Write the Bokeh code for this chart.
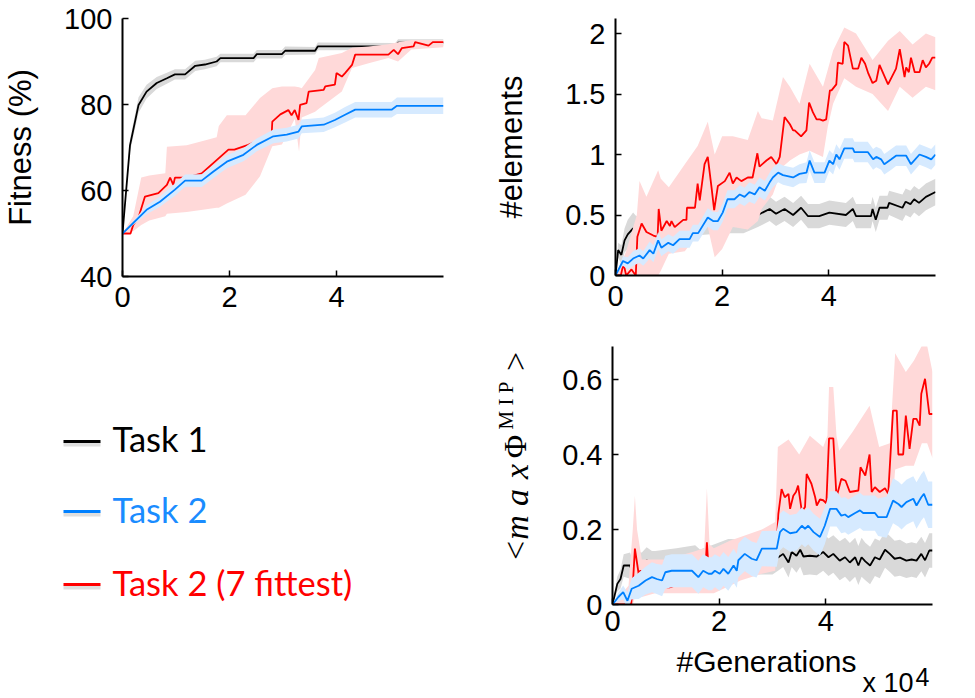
from math import pi
import numpy as np
from bokeh.plotting import figure
from bokeh.models import Range1d, FixedTicker, NumeralTickFormatter
from bokeh.core.properties import value
from bokeh.layouts import row, column
from bokeh.embed import file_html
from bokeh.resources import INLINE

# ---------------- colours ----------------
C_T1, C_T2, C_T2F = "#000000", "#0080ff", "#ff0000"
F_T1, F_T2, F_T2F = "#d9d9d9", "#d6eaff", "#ffd9d9"
series_labels = ["Task 1", "Task 2", "Task 2 (7 fittest)"]
legend_text_colors = ["#000000", "#1a8cff", "#ff0000"]
legend_line_colors = [C_T1, C_T2, C_T2F]

# x values are in units of 10^4 generations
# ---------------- Panel 1 : Fitness (%) ----------------
fit_t1_x = [0, 0.14, 0.30, 0.45, 0.64, 0.83, 0.98, 1.17, 1.36, 1.54, 1.76, 1.83, 2.45, 2.51, 2.98, 3.04, 3.6, 3.65, 5.1, 5.15, 6.0]
fit_t1_y = [50, 70.5, 79.9, 83, 85, 86.1, 87, 87, 89, 89.3, 90, 90.8, 90.8, 91.7, 91.7, 92.5, 92.5, 93.5, 93.5, 94.4, 94.4]
fit_t1_err = [0, 1.5, 1.8, 1.6, 1.4, 1.3, 1.2, 1.2, 1.2, 1.1, 1.1, 1.0, 1.0, 1.0, 1.0, 1.0, 0.9, 0.9, 0.8, 0.8, 0.8]

fit_t2_x = [0, 0.45, 0.70, 0.98, 1.17, 1.48, 1.70, 1.95, 2.26, 2.51, 2.82, 3.07, 3.29, 3.35, 3.76, 3.97, 4.16, 4.35, 5.03, 5.13, 6.0]
fit_t2_y = [50, 55.5, 57.4, 60.2, 62.3, 62.3, 64.4, 66.7, 68.3, 70.6, 72.6, 73, 73.7, 74.9, 75.3, 76.4, 77.6, 78.8, 78.8, 79.7, 79.7]
fit_t2_err = [0, 1.0, 1.2, 1.4, 1.4, 1.5, 1.5, 1.5, 1.5, 1.5, 1.6, 1.6, 1.6, 1.6, 1.7, 1.7, 1.8, 1.8, 1.8, 1.9, 1.9]

fit_t2f_x = [0, 0.15, 0.2, 0.3, 0.42, 0.67, 0.83, 0.89, 0.95, 0.98, 1.2, 1.48, 1.98, 2.09, 2.35, 2.6, 2.79, 2.8, 2.95, 3.1,
             3.16, 3.22, 3.29, 3.32, 3.44, 3.48, 3.76, 3.79, 3.97, 4.0, 4.1, 4.16, 4.29, 4.35, 4.97, 5.07, 5.15, 5.22, 5.44, 5.47,
             5.72, 5.8, 6.0]
fit_t2f_y = [50, 50, 52, 53.8, 58.6, 59.4, 61.3, 63, 61.3, 63, 63, 64, 69.5, 69.5, 70.6, 72, 73.5, 76, 77.7, 78.7,
             77.5, 78.7, 76.4, 79.9, 80.3, 83, 83.4, 84.2, 84.6, 87.3, 86.5, 87.3, 89.2, 91.6, 91.6, 92.7, 91.7, 93.1, 93.5, 94.5,
             93.7, 94.5, 94.5]
fit_t2f_band_x = [0, 0.2, 0.35, 0.5, 0.8, 0.83, 1.2, 1.5, 1.76, 1.8, 1.95, 2.3, 2.57, 2.8, 2.98, 3.22, 3.3, 3.35, 3.6, 3.67,
                  4.1, 4.29, 4.6, 4.97, 5.15, 5.4, 6.0]
fit_t2f_lo = [50, 50.5, 52, 53, 54, 54.6, 55, 55.5, 56, 56, 57, 59, 63.3, 70.3, 70.7, 76.7, 69, 77, 78.3, 79,
              83, 88.5, 89.6, 90.8, 90, 92.8, 93.3]
fit_t2f_hi = [50, 54, 63, 63.5, 64, 70.2, 70.5, 71.5, 72.4, 75, 77.5, 77.5, 81.5, 83.8, 84.2, 84.2, 84, 83.8, 88, 90.8,
              92, 93.2, 93.5, 94, 94.5, 95, 95]

# ---------------- Panel 2 : #elements ----------------
el_t1_x = [0, 0.05, 0.11, 0.17, 0.23, 0.33, 0.39, 0.5, 1.0, 1.5, 2.0, 2.4, 2.67, 2.89, 3.01, 3.17, 3.33, 3.48, 3.61, 3.82,
           4.01, 4.32, 4.45, 4.51, 4.79, 4.82, 4.88, 4.95, 5.1, 5.13, 5.38, 5.44, 5.53, 5.6, 5.69, 5.82, 6.0]
el_t1_y = [0, 0.21, 0.17, 0.29, 0.34, 0.39, 0.36, 0.40, 0.42, 0.44, 0.45, 0.45, 0.50, 0.55, 0.51, 0.55, 0.50, 0.56, 0.49, 0.49,
           0.52, 0.50, 0.55, 0.49, 0.49, 0.55, 0.46, 0.56, 0.56, 0.60, 0.56, 0.61, 0.59, 0.63, 0.60, 0.65, 0.69]
el_t1_err = [0, 0.06, 0.08, 0.10, 0.12, 0.13, 0.13, 0.13, 0.12, 0.11, 0.10, 0.10, 0.10, 0.10, 0.10, 0.10, 0.10, 0.10, 0.10, 0.10,
             0.10, 0.10, 0.10, 0.10, 0.10, 0.10, 0.10, 0.10, 0.10, 0.10, 0.11, 0.11, 0.11, 0.11, 0.11, 0.11, 0.11]

el_t2_x = [0, 0.14, 0.23, 0.33, 0.45, 0.52, 0.64, 0.71, 0.8, 0.86, 0.99, 1.08, 1.2, 1.39, 1.45, 1.55, 1.73, 1.83, 1.92, 2.01,
           2.1, 2.23, 2.33, 2.42, 2.51, 2.61, 2.7, 2.8, 2.89, 2.95, 3.05, 3.14, 3.33, 3.45, 3.58, 3.64, 3.73, 3.92, 4.01, 4.08,
           4.14, 4.2, 4.29, 4.45, 4.48, 4.73, 4.83, 4.89, 4.98, 5.04, 5.17, 5.26, 5.45, 5.54, 5.7, 5.82, 5.92, 6.0]
el_t2_y = [0, 0.12, 0.10, 0.14, 0.165, 0.14, 0.21, 0.18, 0.29, 0.23, 0.27, 0.25, 0.30, 0.30, 0.35, 0.35, 0.48, 0.45, 0.45, 0.52,
           0.63, 0.63, 0.67, 0.65, 0.69, 0.67, 0.73, 0.70, 0.77, 0.81, 0.85, 0.83, 0.81, 0.84, 0.85, 0.95, 0.85, 0.85, 0.95, 0.92,
           1.0, 0.96, 1.05, 1.05, 1.02, 1.02, 0.96, 0.98, 0.96, 0.92, 0.96, 0.99, 0.99, 0.92, 1.0, 0.98, 0.96, 1.0]
el_t2_err = [0, 0.04, 0.05, 0.06, 0.06, 0.06, 0.07, 0.07, 0.07, 0.07, 0.07, 0.07, 0.07, 0.07, 0.07, 0.07, 0.075, 0.075, 0.075, 0.075,
             0.075, 0.075, 0.075, 0.075, 0.08, 0.08, 0.08, 0.08, 0.08, 0.08, 0.08, 0.08, 0.08, 0.08, 0.085, 0.085, 0.085, 0.085, 0.085, 0.085,
             0.085, 0.085, 0.085, 0.085, 0.085, 0.085, 0.085, 0.085, 0.085, 0.085, 0.085, 0.085, 0.085, 0.085, 0.085, 0.085, 0.085, 0.085]

el_t2f_x = [0, 0.1, 0.15, 0.2, 0.3, 0.38, 0.41, 0.49, 0.58, 0.71, 0.79, 0.81, 0.86, 0.96, 1.02, 1.05, 1.11, 1.27, 1.33, 1.34,
            1.49, 1.54, 1.58, 1.67, 1.73, 1.8, 1.85, 1.92, 2.05, 2.14, 2.2, 2.27, 2.36, 2.48, 2.57, 2.66, 2.7, 2.83, 2.92, 3.02,
            3.08, 3.17, 3.27, 3.33, 3.36, 3.48, 3.58, 3.63, 3.7, 3.77, 3.83, 3.89, 3.95, 4.02, 4.05, 4.14, 4.17, 4.26, 4.29, 4.36,
            4.45, 4.55, 4.61, 4.68, 4.74, 4.82, 4.89, 4.95, 5.11, 5.26, 5.33, 5.42, 5.45, 5.5, 5.54, 5.61, 5.7, 5.76, 5.82, 5.88,
            5.94, 6.0]
el_t2f_y = [0, 0, 0.1, 0, 0.05, 0, 0.32, 0.43, 0.36, 0.33, 0.32, 0.55, 0.37, 0.45, 0.41, 0.45, 0.40, 0.46, 0.46, 0.56,
            0.56, 0.76, 0.62, 0.92, 0.98, 0.73, 0.54, 0.74, 0.78, 0.85, 0.76, 0.81, 0.78, 0.81, 0.81, 1.01, 0.90, 0.95, 0.98, 0.92,
            0.98, 1.31, 1.25, 1.2, 1.2, 1.15, 1.2, 1.43, 1.35, 1.29, 1.29, 1.28, 1.29, 1.53, 1.53, 1.58, 1.76, 1.75, 1.93, 1.9,
            1.71, 1.71, 1.8, 1.75, 1.67, 1.59, 1.61, 1.74, 1.58, 1.71, 1.87, 1.64, 1.72, 1.68, 1.8, 1.68, 1.68, 1.78, 1.72, 1.75,
            1.8, 1.8]
el_t2f_band_x = [0, 0.2, 0.4, 0.45, 0.58, 0.8, 0.85, 1.0, 1.3, 1.54, 1.73, 1.86, 2.0, 2.2, 2.48, 2.67, 2.74, 2.95, 3.14, 3.27,
                 3.45, 3.64, 3.89, 3.98, 4.08, 4.29, 4.51, 4.82, 5.11, 5.33, 5.57, 5.82, 6.0]
el_t2f_lo = [0, 0, 0, 0, 0, 0, 0.04, 0.18, 0.2, 0.34, 0.4, 0.15, 0.22, 0.4, 0.38, 0.45, 0.55, 0.67, 0.9, 0.95,
             1.0, 1.03, 0.98, 1.23, 1.42, 1.63, 1.56, 1.5, 1.36, 1.56, 1.47, 1.56, 1.53]
el_t2f_hi = [0, 0.2, 0.5, 0.78, 0.65, 0.87, 0.8, 0.73, 0.92, 1.07, 1.27, 1.0, 1.15, 1.15, 1.12, 1.36, 1.3, 1.28, 1.64, 1.56,
             1.42, 1.75, 1.56, 1.7, 1.86, 2.05, 2.0, 1.78, 1.94, 2.02, 1.91, 2.0, 1.97]

# ---------------- Panel 3 : <max Phi^MIP> ----------------
phi_t1_x = [0, 0.09, 0.15, 0.21, 0.33, 0.36, 0.39, 0.55, 0.64, 0.74, 0.8, 1.2, 1.55, 1.64, 1.9, 2.17, 2.22, 2.6, 3.0, 3.11,
            3.2, 3.3, 3.36, 3.45, 3.52, 3.58, 3.7, 3.83, 3.95, 4.05, 4.14, 4.26, 4.36, 4.45, 4.55, 4.61, 4.67, 4.74, 4.83, 4.92,
            5.01, 5.11, 5.2, 5.29, 5.39, 5.51, 5.61, 5.7, 5.79, 5.86, 5.94, 6.0]
phi_t1_y = [0, 0.055, 0.068, 0.104, 0.104, 0.09, 0.106, 0.104, 0.118, 0.108, 0.108, 0.11, 0.118, 0.107, 0.12, 0.135, 0.135, 0.125, 0.125, 0.126,
            0.135, 0.112, 0.14, 0.13, 0.146, 0.128, 0.13, 0.128, 0.14, 0.126, 0.135, 0.117, 0.126, 0.112, 0.126, 0.104, 0.126, 0.115, 0.104, 0.126,
            0.12, 0.146, 0.135, 0.122, 0.125, 0.117, 0.12, 0.117, 0.135, 0.118, 0.144, 0.144]
phi_t1_err = [0, 0.02, 0.025, 0.03, 0.035, 0.035, 0.035, 0.035, 0.035, 0.035, 0.035, 0.04, 0.04, 0.04, 0.04, 0.04, 0.04, 0.045, 0.045, 0.035,
              0.035, 0.04, 0.04, 0.045, 0.045, 0.05, 0.05, 0.05, 0.05, 0.05, 0.05, 0.052, 0.052, 0.052, 0.052, 0.052, 0.052, 0.05, 0.05, 0.05,
              0.05, 0.048, 0.048, 0.048, 0.048, 0.046, 0.046, 0.046, 0.046, 0.046, 0.046, 0.046]

phi_t2_x = [0, 0.11, 0.2, 0.28, 0.36, 0.49, 0.62, 0.74, 0.83, 0.93, 0.99, 1.11, 1.49, 1.61, 1.7, 1.8, 1.86, 1.92, 2.01, 2.08,
            2.17, 2.27, 2.33, 2.36, 2.48, 2.61, 2.7, 2.8, 3.08, 3.14, 3.2, 3.33, 3.45, 3.55, 3.61, 3.67, 3.77, 3.89, 3.98, 4.08,
            4.2, 4.29, 4.36, 4.42, 4.55, 4.64, 4.7, 4.79, 4.92, 4.98, 5.14, 5.26, 5.36, 5.42, 5.51, 5.64, 5.7, 5.79, 5.84, 5.92,
            6.0]
phi_t2_y = [0, 0.02, 0.033, 0.01, 0.042, 0.05, 0.064, 0.073, 0.068, 0.064, 0.086, 0.09, 0.09, 0.073, 0.09, 0.082, 0.082, 0.09, 0.082, 0.095,
            0.082, 0.104, 0.09, 0.118, 0.135, 0.122, 0.118, 0.149, 0.149, 0.193, 0.202, 0.19, 0.193, 0.21, 0.202, 0.21, 0.193, 0.18, 0.21, 0.255,
            0.255, 0.237, 0.24, 0.233, 0.244, 0.251, 0.244, 0.244, 0.244, 0.233, 0.233, 0.277, 0.268, 0.26, 0.273, 0.282, 0.264, 0.286, 0.295, 0.266,
            0.266]
phi_t2_err = [0, 0.012, 0.018, 0.022, 0.028, 0.035, 0.037, 0.04, 0.04, 0.042, 0.044, 0.044, 0.044, 0.044, 0.044, 0.044, 0.044, 0.044, 0.045, 0.045,
              0.045, 0.045, 0.045, 0.045, 0.046, 0.046, 0.046, 0.047, 0.048, 0.049, 0.049, 0.049, 0.049, 0.049, 0.049, 0.049, 0.049, 0.049, 0.049, 0.047,
              0.047, 0.047, 0.047, 0.047, 0.047, 0.047, 0.047, 0.047, 0.047, 0.05, 0.055, 0.06, 0.06, 0.06, 0.06, 0.06, 0.062, 0.062, 0.062, 0.062,
              0.062]

phi_t2f_x = [0, 0.35, 0.38, 0.42, 0.49, 0.52, 0.7, 0.99, 1.02, 1.08, 1.4, 1.74, 1.77, 1.8, 1.83, 2.0, 2.24, 2.27, 2.52, 2.58,
             2.9, 3.08, 3.09, 3.11, 3.17, 3.23, 3.3, 3.33, 3.39, 3.44, 3.48, 3.55, 3.61, 3.64, 3.73, 3.8, 3.83, 3.89, 3.95, 4.01,
             4.06, 4.14, 4.2, 4.29, 4.37, 4.45, 4.61, 4.65, 4.74, 4.82, 4.86, 4.92, 5.01, 5.11, 5.17, 5.26, 5.33, 5.36, 5.45, 5.5,
             5.57, 5.64, 5.7, 5.76, 5.79, 5.86, 5.94, 6.0]
phi_t2f_y = [0, 0, 0.05, 0.149, 0.082, 0.09, 0.07, 0.055, 0.046, 0.046, 0.06, 0.09, 0.166, 0.095, 0.118, 0.1, 0.126, 0.11, 0.09, 0.09,
             0.12, 0.15, 0.189, 0.242, 0.308, 0.286, 0.295, 0.255, 0.29, 0.3, 0.317, 0.248, 0.26, 0.348, 0.322, 0.286, 0.264, 0.28, 0.278, 0.27,
             0.443, 0.443, 0.286, 0.335, 0.33, 0.3, 0.304, 0.366, 0.344, 0.4, 0.3, 0.313, 0.3, 0.31, 0.295, 0.517, 0.517, 0.4, 0.4, 0.504,
             0.415, 0.495, 0.495, 0.477, 0.562, 0.602, 0.508, 0.508]
phi_t2f_band_x = [0, 0.3, 0.38, 0.42, 0.46, 0.55, 0.8, 1.0, 1.5, 1.72, 1.77, 1.82, 1.9, 2.2, 2.4, 2.8, 3.05, 3.1, 3.3, 3.5,
                  3.7, 3.95, 4.03, 4.06, 4.14, 4.2, 4.25, 4.5, 4.82, 5.0, 5.2, 5.25, 5.3, 5.5, 5.65, 5.8, 5.9, 6.0]
phi_t2f_lo = [0, 0, 0, 0.02, 0.02, 0.02, 0.03, 0.03, 0.03, 0.03, 0.03, 0.03, 0.03, 0.05, 0.064, 0.082, 0.09, 0.18, 0.2, 0.2,
              0.2, 0.2, 0.2, 0.27, 0.27, 0.25, 0.25, 0.25, 0.26, 0.25, 0.27, 0.27, 0.36, 0.37, 0.37, 0.43, 0.43, 0.39]
phi_t2f_hi = [0, 0.05, 0.2, 0.29, 0.2, 0.12, 0.12, 0.12, 0.14, 0.15, 0.31, 0.16, 0.15, 0.17, 0.18, 0.2, 0.22, 0.42, 0.44, 0.4,
              0.45, 0.42, 0.45, 0.58, 0.58, 0.45, 0.41, 0.46, 0.53, 0.42, 0.43, 0.55, 0.67, 0.62, 0.65, 0.69, 0.69, 0.62]

# ticks and texts
fit_yticks = [40, 60, 80, 100]
el_yticks = [0, 0.5, 1, 1.5, 2]
phi_yticks = [0, 0.2, 0.4, 0.6]
x_ticks = [0, 2, 4]
x_title = "#Generations"
x_multiplier = ["x 10", "4"]
phi_label_parts = ["<", "m", "a", "x", "\u03a6", "M I P", ">"]

SANS = "Liberation Sans"
SERIF = "Liberation Serif"


def make_panel(y_range, yticks, left, right, top, bottom, fw, fh):
    p = figure(frame_width=fw, frame_height=fh, x_range=Range1d(0, 6), y_range=Range1d(*y_range),
               output_backend="svg", toolbar_location=None,
               min_border_left=left, min_border_right=right, min_border_top=top, min_border_bottom=bottom)
    p.outline_line_color = None
    p.xgrid.visible = False
    p.ygrid.visible = False
    p.background_fill_color = "white"
    p.border_fill_color = "white"
    p.xaxis.ticker = FixedTicker(ticks=x_ticks)
    p.yaxis.ticker = FixedTicker(ticks=yticks)
    p.xaxis.formatter = NumeralTickFormatter(format="0.[0]")
    p.yaxis.formatter = NumeralTickFormatter(format="0.[0]")
    for ax in (p.xaxis[0], p.yaxis[0]):
        ax.axis_line_width = 2
        ax.axis_line_color = "black"
        ax.major_tick_in = 6
        ax.major_tick_out = 0
        ax.major_tick_line_width = 1.5
        ax.major_tick_line_color = "black"
        ax.minor_tick_line_color = None
        ax.major_label_text_font = SANS
        ax.major_label_text_font_size = "29px"
        ax.major_label_text_color = "black"
        ax.major_label_standoff = 10
        ax.axis_label_text_font = SANS
        ax.axis_label_text_font_size = "31px"
        ax.axis_label_text_font_style = "normal"
        ax.axis_label_text_color = "black"
    return p


def blank(w, h, left=0, right=0):
    p = figure(frame_width=w, frame_height=h, x_range=Range1d(0, w), y_range=Range1d(0, h),
               output_backend="svg", toolbar_location=None, x_axis_type=None, y_axis_type=None,
               min_border_left=left, min_border_right=right, min_border_top=0, min_border_bottom=0)
    p.outline_line_color = None
    p.xgrid.visible = False
    p.ygrid.visible = False
    return p


def draw(p, t1, t2, t2f):
    x, y, e = (np.array(a, dtype=float) for a in t1)
    p.varea(x=x, y1=y - e, y2=y + e, fill_color=F_T1)
    p.line(x, y, line_color=C_T1, line_width=1.8)
    x, y, bx, lo, hi = t2f
    p.varea(x=bx, y1=lo, y2=hi, fill_color=F_T2F)
    p.line(x, y, line_color=C_T2F, line_width=1.8)
    x, y, e = (np.array(a, dtype=float) for a in t2)
    p.varea(x=x, y1=y - e, y2=y + e, fill_color=F_T2)
    p.line(x, y, line_color=C_T2, line_width=1.8)


# Panel 1
p1 = make_panel((40, 100), fit_yticks, 121, 48, 17, 55, 321, 258)
p1.yaxis.axis_label = "Fitness (%)"
p1.yaxis.axis_label_standoff = 23
draw(p1, (fit_t1_x, fit_t1_y, fit_t1_err), (fit_t2_x, fit_t2_y, fit_t2_err),
     (fit_t2f_x, fit_t2f_y, fit_t2f_band_x, fit_t2f_lo, fit_t2f_hi))

# Panel 2
p2 = make_panel((0, 2.124), el_yticks, 122, 43, 18, 55, 320, 257)
p2.yaxis.axis_label = "#elements"
p2.yaxis.axis_label_standoff = 33
draw(p2, (el_t1_x, el_t1_y, el_t1_err), (el_t2_x, el_t2_y, el_t2_err),
     (el_t2f_x, el_t2f_y, el_t2f_band_x, el_t2f_lo, el_t2f_hi))

# Panel 3 (its labels live in the neighbouring blank canvases)
p3 = make_panel((0, 0.688), phi_yticks, 62, 43, 16, 39, 320, 258)
p3.xaxis.major_label_standoff = 6
draw(p3, (phi_t1_x, phi_t1_y, phi_t1_err), (phi_t2_x, phi_t2_y, phi_t2_err),
     (phi_t2f_x, phi_t2f_y, phi_t2f_band_x, phi_t2f_lo, phi_t2f_hi))

# strip below panel 3 (frame aligned with panel 3's frame): x title and multiplier
ps = blank(320, 55, left=62, right=43)
ps.text(x=[154], y=[37.5], text=[x_title], text_font=value(SANS), text_font_size=value("30px"),
        text_align=value("center"), text_baseline=value("middle"), text_color="black")
ps.text(x=[250], y=[15.5], text=[x_multiplier[0]], text_font=value(SANS), text_font_size=value("27px"),
        text_align=value("left"), text_baseline=value("middle"), text_color="black")
ps.text(x=[303], y=[22], text=[x_multiplier[1]], text_font=value(SANS), text_font_size=value("25px"),
        text_align=value("left"), text_baseline=value("middle"), text_color="black")

# left canvas of row 2: legend + y label of panel 3 (pixel coordinates, y up)
pl = blank(550, 368)
leg_line_x0 = [63, 63, 63]
leg_line_x1 = [100, 100, 100]
leg_line_y = [257, 187, 114]
leg_text_x = [112, 112, 112]
leg_text_y = [260, 189, 116]
pl.segment(x0=leg_line_x0, y0=[v - 3 for v in leg_line_y], x1=leg_line_x1, y1=[v - 3 for v in leg_line_y],
           line_color="#c8c8c8", line_width=4, line_alpha=0.6)
pl.segment(x0=leg_line_x0, y0=leg_line_y, x1=leg_line_x1, y1=leg_line_y,
           line_color=legend_line_colors, line_width=3)
pl.text(x=leg_text_x, y=leg_text_y, text=series_labels, text_color=legend_text_colors,
        text_font=value("Lato"), text_font_size=value("34.5px"),
        text_align=value("left"), text_baseline=value("middle"))

# rotated label "< max Phi^MIP >" made of pieces
part_x = [515, 516, 516, 516, 514, 505, 515]
part_y = [148, 171, 201, 227, 252, 293, 337]
part_size = ["34px", "34px", "34px", "34px", "32px", "21px", "34px"]
part_style = ["normal", "italic", "italic", "italic", "normal", "normal", "normal"]
for i in range(len(phi_label_parts)):
    pl.text(x=[part_x[i]], y=[part_y[i]], text=[phi_label_parts[i]], angle=pi / 2,
            text_font=value(SERIF), text_font_size=value(part_size[i]), text_font_style=value(part_style[i]),
            text_align=value("center"), text_baseline=value("middle"), text_color="black")

layout = column(row(p1, p2), row(pl, column(p3, ps)))
open("out.html", "w").write(file_html(layout, INLINE, title="Fitness and integration"))
